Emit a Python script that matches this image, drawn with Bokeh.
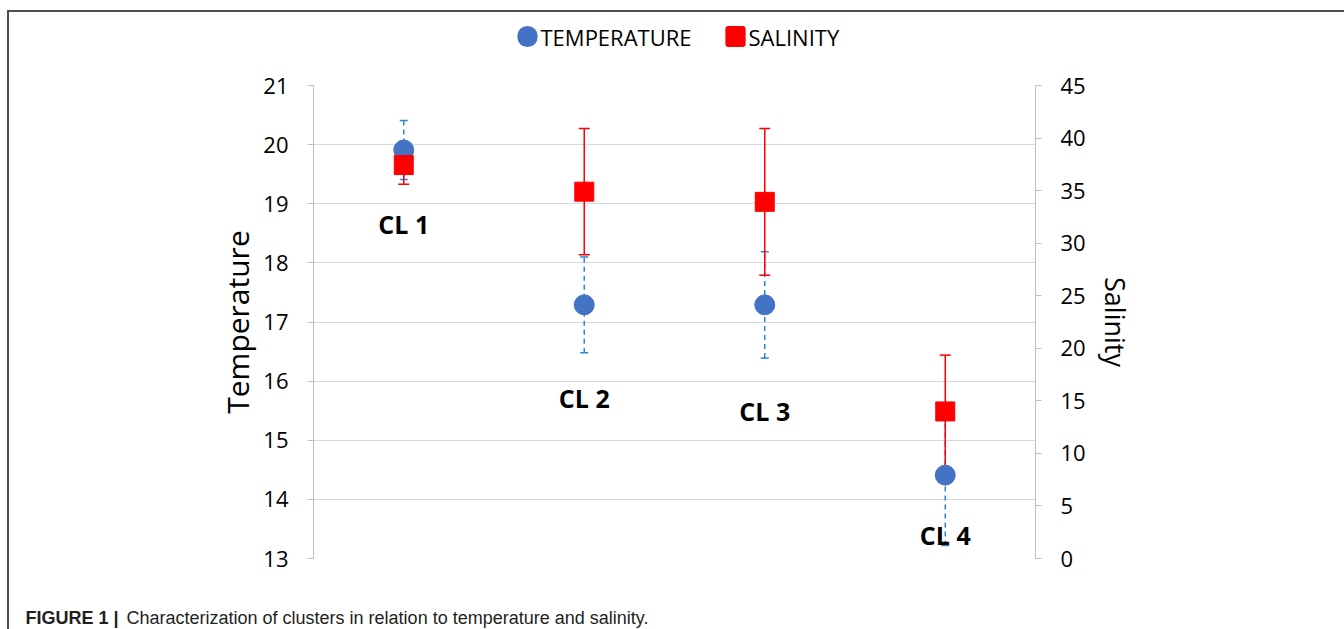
from bokeh.plotting import figure
from bokeh.models import (Range1d, LinearAxis, FixedTicker, Whisker, ColumnDataSource,
                          TeeHead, Label, FactorRange, InlineStyleSheet)
from bokeh.core.properties import value
from bokeh.embed import file_html
from bokeh.resources import INLINE

# ---- data ----
clusters = ["CL 1", "CL 2", "CL 3", "CL 4"]
temperature = [19.91, 17.29, 17.29, 14.41]
temperature_err = [0.50, 0.81, 0.90, 1.19]
salinity = [37.43, 34.9, 33.93, 13.99]
salinity_err = [1.83, 6.0, 6.98, 5.36]
temp_ticks = [13, 14, 15, 16, 17, 18, 19, 20, 21]
sal_ticks = [0, 5, 10, 15, 20, 25, 30, 35, 40, 45]
series_names = ["TEMPERATURE", "SALINITY"]

# positions of the cluster labels (temperature units)
label_y = [18.65, 15.72, 15.50, 13.39]

FONT = "Open Sans"
BLUE = "#4472C4"
ERR_BLUE = "#2E86D1"
RED = "#FF0000"

t_src = ColumnDataSource(dict(
    cluster=clusters, value=temperature,
    upper=[v + e for v, e in zip(temperature, temperature_err)],
    lower=[v - e for v, e in zip(temperature, temperature_err)]))
s_src = ColumnDataSource(dict(
    cluster=clusters, value=salinity,
    upper=[v + e for v, e in zip(salinity, salinity_err)],
    lower=[v - e for v, e in zip(salinity, salinity_err)]))
lab_src = ColumnDataSource(dict(cluster=clusters, y=label_y, text=clusters))

p = figure(width=1344, height=629, x_range=FactorRange(*clusters),
           y_range=Range1d(13, 21), output_backend="svg", toolbar_location=None,
           min_border_left=313, min_border_right=309, min_border_top=85,
           min_border_bottom=71)
p.extra_y_ranges = {"sal": Range1d(0, 45)}
p.outline_line_color = None
p.background_fill_color = "white"
p.border_fill_color = "white"
p.xaxis.visible = False
p.xgrid.visible = False
p.ygrid.grid_line_color = "#D9D9D9"
p.ygrid.grid_line_width = 1

# figure frame: top and left edges (page decoration, does not affect layout)
p.stylesheets = [InlineStyleSheet(css="""
:host::after {
  content: "";
  position: absolute;
  left: 7px; top: 10px; width: 2000px; height: 2000px;
  border-top: 2px solid #4D4D4D;
  border-left: 2px solid #4D4D4D;
  pointer-events: none;
  z-index: 10;
}
""")]

ly = p.yaxis[0]
ly.ticker = FixedTicker(ticks=temp_ticks)
ly.axis_label = "Temperature"

ry = LinearAxis(y_range_name="sal", ticker=FixedTicker(ticks=sal_ticks),
                axis_label="Salinity")
p.add_layout(ry, "right")

for ax, lsz, std in ((ly, "30px", 2), (ry, "27px", 8)):
    ax.axis_line_color = "#BFBFBF"
    ax.major_tick_line_color = "#BFBFBF"
    ax.major_tick_out = 6
    ax.major_tick_in = 0
    ax.minor_tick_out = 0
    ax.minor_tick_in = 0
    ax.major_label_standoff = 19
    ax.major_label_text_font = FONT
    ax.major_label_text_font_size = "22px"
    ax.major_label_text_color = "#000000"
    ax.axis_label_text_font = FONT
    ax.axis_label_text_font_size = lsz
    ax.axis_label_text_font_style = "normal"
    ax.axis_label_text_color = "#000000"
    ax.axis_label_standoff = std

# error bars
t_wh = Whisker(source=t_src, base="cluster", upper="upper", lower="lower",
               line_color=ERR_BLUE, line_width=1.5, line_dash="5 4",
               upper_head=TeeHead(size=8, line_color=ERR_BLUE, line_width=1.5),
               lower_head=TeeHead(size=8, line_color=ERR_BLUE, line_width=1.5),
               level="underlay")
p.add_layout(t_wh)

r_t = p.scatter("cluster", "value", source=t_src, marker="circle", size=20,
                fill_color=BLUE, line_color=BLUE)
r_s = p.scatter("cluster", "value", source=s_src, marker="square", size=19,
                fill_color=RED, line_color=RED, y_range_name="sal")

s_wh = Whisker(source=s_src, base="cluster", upper="upper", lower="lower",
               line_color=RED, line_width=1.5, y_range_name="sal",
               upper_head=TeeHead(size=11, line_color=RED, line_width=1.5),
               lower_head=TeeHead(size=11, line_color=RED, line_width=1.5))
p.add_layout(s_wh)

p.text("cluster", "y", text="text", source=lab_src, text_font=value(FONT),
       text_font_style="bold", text_font_size="25px", text_align="center",
       text_baseline="middle", text_color="#000000")

# ---- key above the plot (marker swatches + texts, canvas coordinates) ----
p.add_layout(Label(x=527, y=36, x_units="canvas", y_units="canvas", text=" ",
                   anchor="center", text_font_size="1px",
                   padding=dict(left=10, right=10, top=10, bottom=10),
                   background_fill_color=BLUE, border_line_color=None,
                   border_radius=10), "left")
p.add_layout(Label(x=540, y=36, x_units="canvas", y_units="canvas",
                   text=series_names[0], text_font=FONT, text_font_size="22px",
                   text_color="#000000", text_baseline="middle",
                   text_align="left"), "left")
p.add_layout(Label(x=735, y=36, x_units="canvas", y_units="canvas", text=" ",
                   anchor="center", text_font_size="1px",
                   padding=dict(left=10, right=10, top=10, bottom=10),
                   background_fill_color=RED, border_line_color=None,
                   border_radius=3), "right")
p.add_layout(Label(x=748, y=36, x_units="canvas", y_units="canvas",
                   text=series_names[1], text_font=FONT, text_font_size="22px",
                   text_color="#000000", text_baseline="middle",
                   text_align="left"), "right")

# caption
p.add_layout(Label(x=25, y=617, x_units="canvas", y_units="canvas",
                   text="FIGURE 1 |", text_font="Liberation Sans",
                   text_font_style="bold", text_font_size="18px",
                   text_color="#231F20", text_baseline="alphabetic"), "below")
p.add_layout(Label(x=126, y=617, x_units="canvas", y_units="canvas",
                   text="Characterization of clusters in relation to temperature and salinity.",
                   text_font="Liberation Sans", text_font_size="18px",
                   text_color="#231F20", text_baseline="alphabetic"), "below")

open("out.html", "w").write(file_html(p, INLINE))
